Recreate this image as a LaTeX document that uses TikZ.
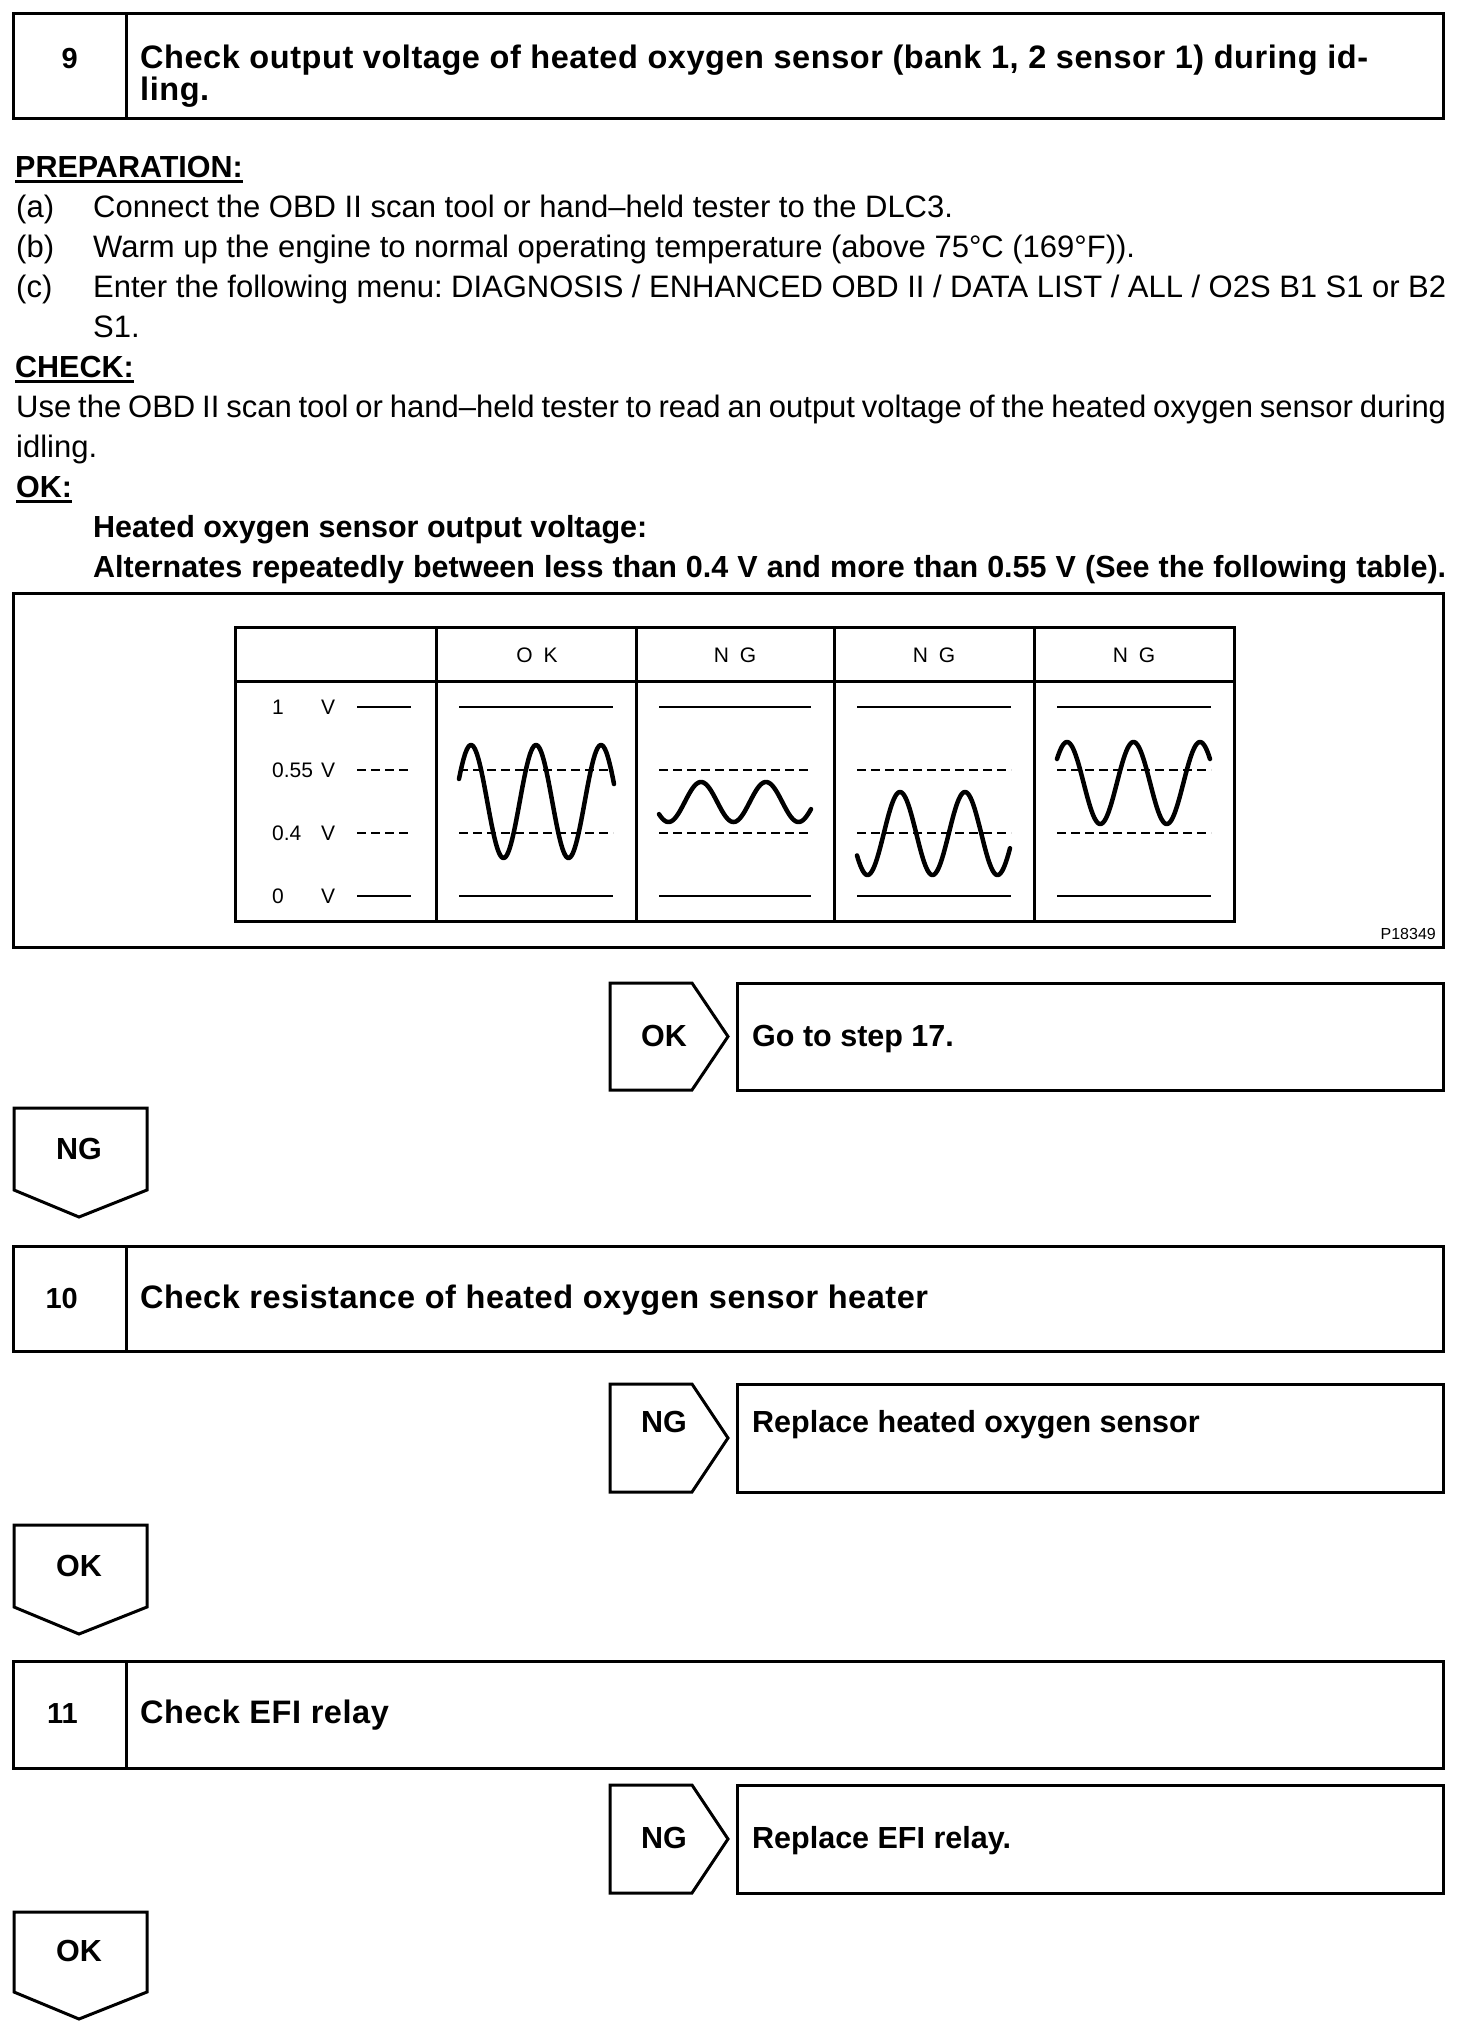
\documentclass[tikz,border=0pt]{standalone}
\usepackage{fontspec}
\setmainfont{Liberation Sans}
\newfontfamily\tfont{Liberation Sans}[LetterSpace=1.7]
\frenchspacing
\begin{document}
\begin{tikzpicture}[x=1pt,y=-1pt]
\tikzset{
 box/.style={line width=3pt},
 body/.style={inner sep=0pt, anchor=base west, font=\fontsize{31}{40}\selectfont},
 bodyb/.style={inner sep=0pt, anchor=base west, font=\fontsize{30.5}{40}\selectfont\bfseries},
 ttl/.style={inner sep=0pt, anchor=base west, font=\tfont\bfseries\fontsize{32.5}{34}\selectfont},
 num/.style={inner sep=0pt, anchor=base east, font=\bfseries\fontsize{29}{30}\selectfont},
 lab/.style={inner sep=0pt, anchor=base, font=\fontsize{30.5}{40}\selectfont\bfseries},
 tbl/.style={inner sep=0pt, font=\fontsize{21}{24}\selectfont},
 uline/.style={line width=2.5pt},
 lvl/.style={line width=2.8pt},
 lvld/.style={line width=2.6pt, dash pattern=on 9pt off 5pt},
 wave/.style={line width=4.5pt, line cap=round, line join=round},
}
\useasboundingbox (0,0) rectangle (1472,2032);
\fill[white] (0,0) rectangle (1472,2032);

% ---------- Step 9 ----------
\draw[box] (13,13) rectangle (1443,118);
\draw[box] (126,13) -- (126,118);
\node[num] (n9) at (78,68) {9};
\node[ttl] (t9a) at (140,68) {Check output voltage of heated oxygen sensor (bank 1, 2 sensor 1) during id-};
\node[ttl] (t9b) at (140,100) {ling.};

% ---------- text ----------
\node[bodyb] (prep) at (15,177.5) {PREPARATION:};
\draw[uline] ([yshift=-4pt]prep.base west) -- ([yshift=-4pt]prep.base east);
\node[body] (la) at (16,217.5) {(a)};
\node[body] (ta) at (93,217.5) {Connect the OBD II scan tool or hand--held tester to the DLC3.};
\node[body] (lb) at (16,257.5) {(b)};
\node[body] (tb) at (93,257.5) {Warm up the engine to normal operating temperature (above 75°C (169°F)).};
\node[body] (lc) at (16,297.5) {(c)};
\node[body] (tc) at (93,297.5) {\makebox[1353pt][s]{Enter the following menu: DIAGNOSIS / ENHANCED OBD II / DATA LIST / ALL / O2S B1 S1 or B2}};
\node[body] (tc2) at (93,337.5) {S1.};
\node[bodyb] (chk) at (15,377.5) {CHECK:};
\draw[uline] ([yshift=-4pt]chk.base west) -- ([yshift=-4pt]chk.base east);
\node[body] (use1) at (16,417.5) {\makebox[1430pt][s]{Use the OBD II scan tool or hand--held tester to read an output voltage of the heated oxygen sensor during}};
\node[body] (use2) at (16,457.5) {idling.};
\node[bodyb] (okh) at (16,497.5) {OK:};
\draw[uline] ([yshift=-4pt]okh.base west) -- ([yshift=-4pt]okh.base east);
\node[bodyb] (hv) at (93,537.5) {Heated oxygen sensor output voltage:};
\node[bodyb] (alt) at (93,577.5) {\makebox[1353pt][s]{Alternates repeatedly between less than 0.4 V and more than 0.55 V (See the following table).}};

% ---------- figure ----------
\draw[box] (13,593) rectangle (1443,947);
\draw[line width=3pt] (235,627) rectangle (1234,921);
\draw[line width=3pt] (235,681) -- (1234,681);
\foreach \c in {436,636,834,1034} { \draw[line width=3pt] (\c,627) -- (\c,921); }
\node[tbl] (hok) at (537,655) {O\hspace{11pt}K};
\node[tbl] (hng1) at (735,655) {N\hspace{11pt}G};
\node[tbl] (hng2) at (934,655) {N\hspace{11pt}G};
\node[tbl] (hng3) at (1134,655) {N\hspace{11pt}G};

\node[tbl, anchor=base west] (v1) at (272,714.5) {1};
\node[tbl, anchor=base west] (v055) at (272,777.5) {0.55};
\node[tbl, anchor=base west] (v04) at (272,840.5) {0.4};
\node[tbl, anchor=base west] (v0) at (272,903.5) {0};
\node[tbl, anchor=base] (u1) at (328,714.5) {V};
\node[tbl, anchor=base] (u055) at (328,777.5) {V};
\node[tbl, anchor=base] (u04) at (328,840.5) {V};
\node[tbl, anchor=base] (u0) at (328,903.5) {V};
\draw[lvl] (357,707) -- (411,707);
\draw[lvld] (357,770) -- (411,770);
\draw[lvld] (357,833) -- (411,833);
\draw[lvl] (357,896) -- (411,896);

\foreach \L/\R in {459/613, 659/811, 857/1011, 1057/1211} {
  \draw[lvl] (\L,707) -- (\R,707);
  \draw[lvld] (\L,770) -- (\R,770);
  \draw[lvld] (\L,833) -- (\R,833);
  \draw[lvl] (\L,896) -- (\R,896);
}
\draw[wave] plot[domain=459:614, samples=140, smooth] (\x, {801.5-56.5*cos((\x-471)/65*360)});
\draw[wave] plot[domain=659:811, samples=140, smooth] (\x, {802-20*cos((\x-701)/65*360)});
\draw[wave] plot[domain=857:1010, samples=140, smooth] (\x, {833.5-41.5*cos((\x-900)/65*360)});
\draw[wave] plot[domain=1057:1210, samples=140, smooth] (\x, {783-41*cos((\x-1067)/66.5*360)});

\node[inner sep=0pt, anchor=base east, font=\fontsize{16}{18}\selectfont] (pid) at (1436,939) {P18349};

% ---------- OK -> Go to step 17 ----------
\draw[box] (610,983) -- (692,983) -- (728,1036.5) -- (692,1090) -- (610,1090) -- cycle;
\draw[box] (737,983) rectangle (1443,1090);
\node[lab] (ok1) at (664,1046) {OK};
\node[bodyb] (go17) at (752,1046) {Go to step 17.};

% ---------- NG down ----------
\draw[box] (14,1108) -- (147,1108) -- (147,1190) -- (79,1217) -- (14,1190) -- cycle;
\node[lab] (ng1) at (79,1159) {NG};

% ---------- Step 10 ----------
\draw[box] (13,1246) rectangle (1443,1351);
\draw[box] (126,1246) -- (126,1351);
\node[num] (n10) at (78,1308) {10};
\node[ttl] (t10) at (140,1308) {Check resistance of heated oxygen sensor heater};

\draw[box] (610,1384) -- (692,1384) -- (728,1438) -- (692,1492) -- (610,1492) -- cycle;
\draw[box] (737,1384) rectangle (1443,1492);
\node[lab] (ng2) at (664,1432) {NG};
\node[bodyb] (rep1) at (752,1432) {Replace heated oxygen sensor};

\draw[box] (14,1525) -- (147,1525) -- (147,1607) -- (79,1634) -- (14,1607) -- cycle;
\node[lab] (ok2) at (79,1576) {OK};

% ---------- Step 11 ----------
\draw[box] (13,1661) rectangle (1443,1768);
\draw[box] (126,1661) -- (126,1768);
\node[num] (n11) at (78,1723) {11};
\node[ttl] (t11) at (140,1723) {Check EFI relay};

\draw[box] (610,1785) -- (692,1785) -- (728,1839) -- (692,1893) -- (610,1893) -- cycle;
\draw[box] (737,1785) rectangle (1443,1893);
\node[lab] (ng3) at (664,1848) {NG};
\node[bodyb] (rep2) at (752,1848) {Replace EFI relay.};

\draw[box] (14,1912) -- (147,1912) -- (147,1992) -- (79,2019) -- (14,1992) -- cycle;
\node[lab] (ok3) at (79,1961) {OK};
\end{tikzpicture}
\end{document}
